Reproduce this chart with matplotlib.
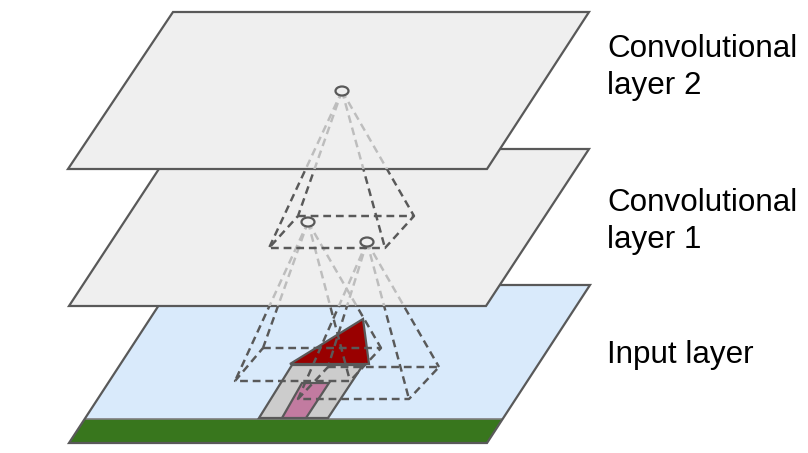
import matplotlib
matplotlib.use("Agg")
import matplotlib.pyplot as plt
from matplotlib.patches import Polygon, Ellipse

# ── geometry (pixel coords, y downwards) ──
top_plane = [(173, 12), (589, 12), (487, 169), (68, 169)]
mid_plane = [(172, 149), (589, 149), (486, 306), (69, 306)]
input_plane = [(172, 285), (590, 285), (487, 443), (69, 443)]
grass = [(85, 419), (502, 419), (487, 443), (69, 443)]

wall = [(259, 418), (328, 418), (363, 365), (292, 365)]
door = [(282, 418), (306, 418), (329, 383), (302, 383)]
roof = [(290, 364), (363, 319), (369, 364)]

node_l2 = (342, 91)
nodes_l1 = [(308, 222), (367, 242)]
field_l1 = [(298, 216), (414, 216), (385, 248), (269, 248)]
fields_in = [
    [(263, 348), (381, 348), (350, 381), (235, 381)],
    [(328, 367), (439, 367), (409, 399), (298, 399)],
]

labels = [
    ("Convolutional", 57), ("layer 2", 94),
    ("Convolutional", 211), ("layer 1", 248),
    ("Input layer", 363),
]

PLANE = "#efefef"
EDGE = "#595959"
LIGHT = "#bdbdbd"
DASH = (0, (3.2, 2.0))
DLW = 1.75

fig = plt.figure(figsize=(8.08, 4.53), dpi=100)
ax = fig.add_axes([0, 0, 1, 1])
ax.set_xlim(0, 808)
ax.set_ylim(453, 0)
ax.axis("off")


def square(pts, color, z, clip=None):
    xs = [p[0] for p in pts] + [pts[0][0]]
    ys = [p[1] for p in pts] + [pts[0][1]]
    ln, = ax.plot(xs, ys, color=color, lw=DLW, linestyle=DASH, zorder=z)
    if clip is not None:
        ln.set_clip_path(clip)


def pyramid(apex, pts, color, z, clip=None):
    for p in pts:
        ln, = ax.plot([apex[0], p[0]], [apex[1], p[1]], color=color, lw=DLW,
                      linestyle=DASH, zorder=z)
        if clip is not None:
            ln.set_clip_path(clip)


# ── input layer ───────────────────────────────────────
ax.add_patch(Polygon(input_plane, closed=True, fc="#d9eafb", ec="none", zorder=1))
ax.add_patch(Polygon(grass, closed=True, fc="#38761d", ec="none", zorder=1.1))
ax.plot([grass[0][0], grass[1][0]], [grass[0][1], grass[1][1]],
        color="#7f7f7f", lw=1.2, zorder=1.2)
ax.add_patch(Polygon(input_plane, closed=True, fc="none", ec=EDGE, lw=1.6,
                     joinstyle="miter", zorder=1.3))

# house
ax.add_patch(Polygon(wall, closed=True, fc="#cccccc", ec=EDGE, lw=1.6, zorder=2))
ax.add_patch(Polygon(door, closed=True, fc="#c27ba0", ec=EDGE, lw=1.6, zorder=2.1))
ax.add_patch(Polygon(roof, closed=True, fc="#990000", ec=EDGE, lw=1.6,
                     joinstyle="miter", zorder=2.2))

# receptive fields of layer 1 on the input
for apex, fld in zip(nodes_l1, fields_in):
    square(fld, EDGE, 3)
    pyramid(apex, fld, EDGE, 3)

# ── convolutional layer 1 ─────────────────────────────
mid = Polygon(mid_plane, closed=True, fc=PLANE, ec=EDGE, lw=1.6,
              joinstyle="miter", zorder=4)
ax.add_patch(mid)
for apex, fld in zip(nodes_l1, fields_in):
    pyramid(apex, fld, LIGHT, 4.5, clip=mid)

square(field_l1, EDGE, 5)
pyramid(node_l2, field_l1, EDGE, 5)
for cx, cy in nodes_l1:
    ax.add_patch(Ellipse((cx, cy), 13, 9, fc=PLANE, ec=EDGE, lw=1.6, zorder=5.5))

# ── convolutional layer 2 ─────────────────────────────
top = Polygon(top_plane, closed=True, fc=PLANE, ec=EDGE, lw=1.6,
              joinstyle="miter", zorder=6)
ax.add_patch(top)
pyramid(node_l2, field_l1, LIGHT, 6.5, clip=top)
ax.add_patch(Ellipse(node_l2, 13, 9, fc=PLANE, ec=EDGE, lw=1.6, zorder=7))

# ── labels ────────────────────────────────────────────
for txt, y in labels:
    ax.text(607, y, txt, fontsize=22.6, family="Liberation Sans",
            color="#000000", va="baseline", ha="left", zorder=8)

fig.savefig("out.png", dpi=100)
